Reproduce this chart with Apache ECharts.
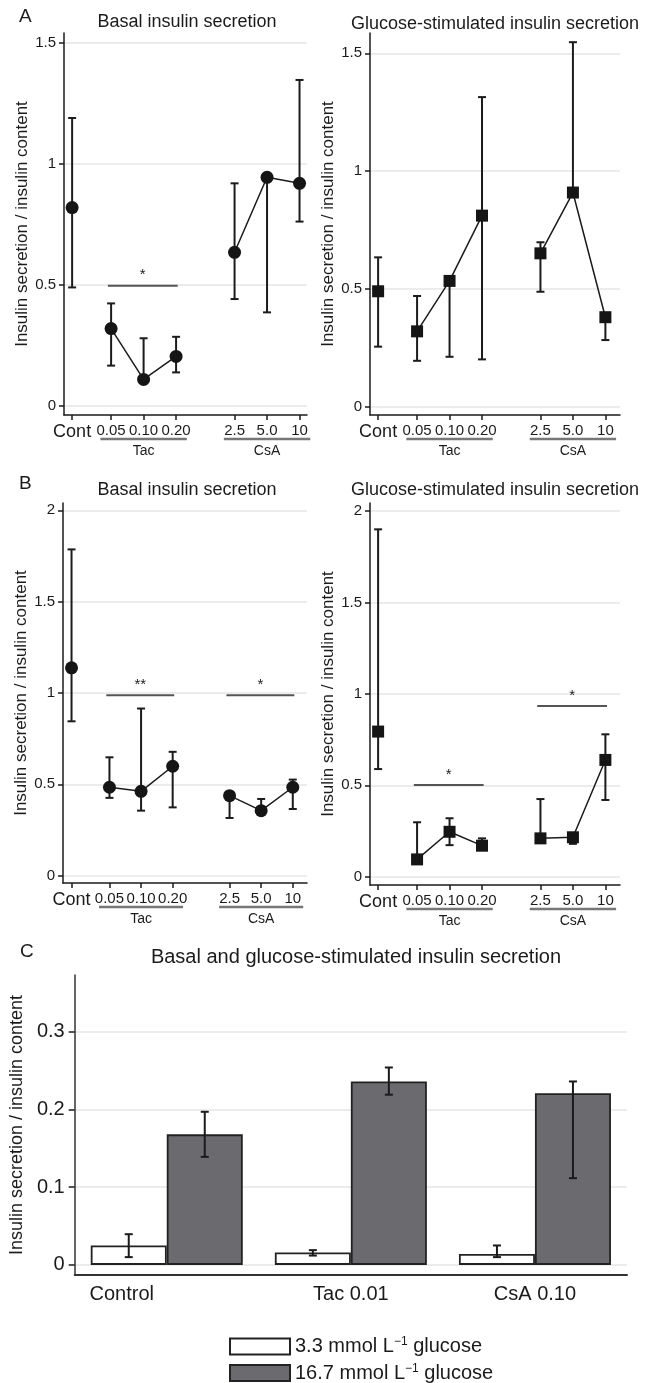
<!DOCTYPE html>
<html>
<head>
<meta charset="utf-8">
<script src="https://cdn.jsdelivr.net/npm/echarts@6/dist/echarts.min.js"></script>
<style>
html, body { margin: 0; padding: 0; background: #fff; }
#main { width: 651px; height: 1383px; }
</style>
</head>
<body>
<div id="main"></div>
<script>
var doseLabels = ['Cont', '0.05', '0.10', '0.20', '2.5', '5.0', '10'];
var drugGroups = ['Tac', 'CsA'];

// A: mean and error range per dose
var aBasalMean = [0.82, 0.32, 0.11, 0.205, 0.635, 0.945, 0.92];
var aBasalLow  = [0.49, 0.167, 0.11, 0.139, 0.442, 0.387, 0.762];
var aBasalHigh = [1.19, 0.424, 0.28, 0.286, 0.92, 0.945, 1.347];
var aGlucMean = [0.49, 0.32, 0.534, 0.811, 0.651, 0.909, 0.38];
var aGlucLow  = [0.255, 0.195, 0.212, 0.201, 0.488, 0.9, 0.283];
var aGlucHigh = [0.634, 0.47, 0.534, 1.314, 0.698, 1.547, 0.38];

// B
var bBasalMean = [1.138, 0.484, 0.462, 0.599, 0.438, 0.356, 0.484];
var bBasalLow  = [0.845, 0.426, 0.356, 0.374, 0.316, 0.356, 0.365];
var bBasalHigh = [1.786, 0.648, 0.915, 0.678, 0.438, 0.42, 0.526];
var bGlucMean = [0.794, 0.095, 0.246, 0.17, 0.21, 0.216, 0.639];
var bGlucLow  = [0.589, 0.095, 0.173, 0.146, 0.21, 0.18, 0.42];
var bGlucHigh = [1.90, 0.298, 0.32, 0.21, 0.425, 0.216, 0.779];

// significance bars: first dose index, last dose index, height, mark
var aBasalSig = [[1, 3, 0.497, '*']];
var aGlucSig = [];
var bBasalSig = [[1, 3, 0.988, '**'], [4, 6, 0.988, '*']];
var bGlucSig = [[1, 3, 0.502, '*'], [4, 6, 0.934, '*']];

var abTicks = [0, 0.5, 1, 1.5];
var bbTicks = [0, 0.5, 1, 1.5, 2];

// C
var cCats = ['Control', 'Tac 0.01', 'CsA 0.10'];
var cLowName = '3.3 mmol L⁻¹ glucose';
var cHighName = '16.7 mmol L⁻¹ glucose';
var cLowMean = [0.025, 0.016, 0.014];
var cLowErrLo = [0.01, 0.012, 0.01];
var cLowErrHi = [0.0395, 0.019, 0.025];
var cHighMean = [0.168, 0.236, 0.221];
var cHighErrLo = [0.139, 0.219, 0.1116];
var cHighErrHi = [0.197, 0.254, 0.236];
var cTicks = [0, 0.1, 0.2, 0.3];

var yName = 'Insulin secretion / insulin content';
var font = 'Liberation Sans, Arial, sans-serif';
var ink = '#1b1b1b';

// layout: where each dose sits on the x scale
var slotPos = [0, 1.2, 2.2, 3.2, 5, 6, 7];
var groupSlots = [[1, 3], [4, 6]];

var panels = [
    {grid: {left: 64, top: 33, width: 243, height: 382}, x: [-0.25, 7.23], y: [-0.037, 1.541], ticks: abTicks,
        mean: aBasalMean, low: aBasalLow, high: aBasalHigh, sig: aBasalSig, symbol: 'circle', size: 13},
    {grid: {left: 370, top: 33, width: 250, height: 382}, x: [-0.25, 7.45], y: [-0.035, 1.586], ticks: abTicks,
        mean: aGlucMean, low: aGlucLow, high: aGlucHigh, sig: aGlucSig, symbol: 'rect', size: 12},
    {grid: {left: 63, top: 503, width: 244, height: 380}, x: [-0.27, 7.45], y: [-0.04, 2.04], ticks: bbTicks,
        mean: bBasalMean, low: bBasalLow, high: bBasalHigh, sig: bBasalSig, symbol: 'circle', size: 13},
    {grid: {left: 370, top: 503, width: 250, height: 382}, x: [-0.25, 7.45], y: [-0.045, 2.044], ticks: bbTicks,
        mean: bGlucMean, low: bGlucLow, high: bGlucHigh, sig: bGlucSig, symbol: 'rect', size: 12}
];

function errRender(offset) {
    return function (params, api) {
        var top = api.coord([api.value(0), api.value(2)]);
        var bot = api.coord([api.value(0), api.value(1)]);
        var x = top[0] + offset;
        var st = {stroke: ink, lineWidth: 2};
        return {type: 'group', children: [
            {type: 'line', shape: {x1: x, y1: top[1], x2: x, y2: bot[1]}, style: st},
            {type: 'line', shape: {x1: x - 4, y1: top[1], x2: x + 4, y2: top[1]}, style: st},
            {type: 'line', shape: {x1: x - 4, y1: bot[1], x2: x + 4, y2: bot[1]}, style: st}
        ]};
    };
}

function sigRender(list) {
    return function (params, api) {
        var a = api.coord([api.value(0), api.value(2)]);
        var b = api.coord([api.value(1), api.value(2)]);
        return {type: 'group', children: [
            {type: 'line', shape: {x1: a[0], y1: a[1], x2: b[0], y2: b[1]}, style: {stroke: '#555', lineWidth: 2}},
            {type: 'text', style: {text: list[params.dataIndex][3], x: (a[0] + b[0]) / 2, y: a[1] - 3,
                align: 'center', verticalAlign: 'bottom', fontSize: 15, fontFamily: font, fill: ink}}
        ]};
    };
}

function groupRender(params, api) {
    var cs = params.coordSys;
    var bottom = cs.y + cs.height;
    var a = api.coord([api.value(0), 0]);
    var b = api.coord([api.value(1), 0]);
    return {type: 'group', children: [
        {type: 'line', shape: {x1: a[0], y1: bottom + 24, x2: b[0], y2: bottom + 24}, style: {stroke: '#777', lineWidth: 2.5}},
        {type: 'text', style: {text: drugGroups[params.dataIndex], x: (a[0] + b[0]) / 2, y: bottom + 29,
            align: 'center', verticalAlign: 'top', fontSize: 14, fontFamily: font, fill: ink}}
    ]};
}

var grids = [], xAxes = [], yAxes = [], series = [];

panels.forEach(function (p, k) {
    grids.push(p.grid);
    xAxes.push({
        type: 'value', gridIndex: k, min: p.x[0], max: p.x[1],
        axisLine: {onZero: false, lineStyle: {color: ink, width: 1.5}},
        axisTick: {customValues: slotPos, length: 5, lineStyle: {color: ink, width: 1.5}},
        axisLabel: {
            customValues: slotPos, margin: 8, color: ink, fontSize: 15,
            formatter: function (v) {
                var lab = doseLabels[slotPos.indexOf(v)];
                return lab === 'Cont' ? '{big|Cont}' : lab;
            },
            rich: {big: {fontSize: 18, color: ink, fontFamily: font}}
        },
        splitLine: {show: false}
    });
    yAxes.push({
        type: 'value', gridIndex: k, min: p.y[0], max: p.y[1],
        name: yName, nameLocation: 'middle', nameGap: 30,
        nameTextStyle: {fontSize: 17, color: ink},
        axisLine: {show: true, onZero: false, lineStyle: {color: ink, width: 1.5}},
        axisTick: {show: true, customValues: p.ticks, length: 5, lineStyle: {color: ink, width: 1.5}},
        axisLabel: {customValues: p.ticks, margin: 8, fontSize: 15, color: ink},
        splitLine: {show: true, lineStyle: {color: '#e6e6e6', width: 1.5}}
    });

    var errData = p.mean.map(function (m, i) { return [slotPos[i], p.low[i], p.high[i]]; });
    series.push({type: 'custom', xAxisIndex: k, yAxisIndex: k, data: errData, renderItem: errRender(0), z: 2});

    groupSlots.forEach(function (g) {
        var pts = [];
        for (var i = g[0]; i <= g[1]; i++) pts.push([slotPos[i], p.mean[i]]);
        series.push({type: 'line', xAxisIndex: k, yAxisIndex: k, data: pts, showSymbol: false,
            lineStyle: {color: ink, width: 1.5}, z: 3});
    });

    series.push({type: 'scatter', xAxisIndex: k, yAxisIndex: k, symbol: p.symbol, symbolSize: p.size,
        data: p.mean.map(function (m, i) { return [slotPos[i], m]; }),
        itemStyle: {color: '#151515', opacity: 1}, z: 4});

    if (p.sig.length) {
        series.push({type: 'custom', xAxisIndex: k, yAxisIndex: k, renderItem: sigRender(p.sig), z: 2,
            data: p.sig.map(function (s) { return [slotPos[s[0]] - 0.1, slotPos[s[1]] + 0.05, s[2]]; })});
    }

    series.push({type: 'custom', xAxisIndex: k, yAxisIndex: k, renderItem: groupRender, z: 2,
        data: groupSlots.map(function (g) { return [slotPos[g[0]] - 0.33, slotPos[g[1]] + 0.33]; })});
});

// panel C
var barW = 76;
grids.push({left: 73, top: 975, width: 554, height: 300});
xAxes.push({
    type: 'category', gridIndex: 4, data: cCats,
    axisLine: {onZero: false, lineStyle: {color: '#333', width: 2}},
    axisTick: {show: false},
    axisLabel: {
        margin: 9, fontSize: 20, color: ink,
        formatter: function (v, i) { return i === 0 ? '{left|' + v + '}' : v; },
        rich: {left: {fontSize: 20, color: ink, fontFamily: font, padding: [0, 90, 0, 0]}}
    }
});
yAxes.push({
    type: 'value', gridIndex: 4, min: -0.013, max: 0.373,
    name: yName, nameLocation: 'middle', nameGap: 37,
    nameTextStyle: {fontSize: 18, color: ink},
    axisLine: {show: true, onZero: false, lineStyle: {color: '#333', width: 1.5}},
    axisTick: {show: true, customValues: cTicks, length: 6, lineStyle: {color: ink, width: 1.5}},
    axisLabel: {customValues: cTicks, margin: 10, fontSize: 20, color: ink},
    splitLine: {show: true, lineStyle: {color: '#e6e6e6', width: 1.5}}
});
series.push({
    type: 'bar', name: cLowName, xAxisIndex: 4, yAxisIndex: 4, data: cLowMean,
    barWidth: barW, barGap: '0%',
    itemStyle: {color: '#ffffff', borderColor: '#222', borderWidth: 1.8}
});
series.push({
    type: 'bar', name: cHighName, xAxisIndex: 4, yAxisIndex: 4, data: cHighMean,
    barWidth: barW, barGap: '0%',
    itemStyle: {color: '#6b6b6f', borderColor: '#222', borderWidth: 1.8}
});
series.push({type: 'custom', xAxisIndex: 4, yAxisIndex: 4, renderItem: errRender(-barW / 2), z: 5,
    data: cLowMean.map(function (m, i) { return [i, cLowErrLo[i], cLowErrHi[i]]; })});
series.push({type: 'custom', xAxisIndex: 4, yAxisIndex: 4, renderItem: errRender(barW / 2), z: 5,
    data: cHighMean.map(function (m, i) { return [i, cHighErrLo[i], cHighErrHi[i]]; })});

var titleStyle = {fontSize: 18, fontWeight: 'normal', color: ink, fontFamily: font};
var chart = echarts.init(document.getElementById('main'));
chart.setOption({
    animation: false,
    textStyle: {fontFamily: font},
    title: [
        {text: 'A', left: 19, top: 7, padding: 0, textStyle: {fontSize: 19, fontWeight: 'normal', color: ink}},
        {text: 'Basal insulin secretion', left: 187, top: 13, padding: 0, textAlign: 'center', textStyle: titleStyle},
        {text: 'Glucose-stimulated insulin secretion', left: 495, top: 15, padding: 0, textAlign: 'center', textStyle: titleStyle},
        {text: 'B', left: 19, top: 474, padding: 0, textStyle: {fontSize: 19, fontWeight: 'normal', color: ink}},
        {text: 'Basal insulin secretion', left: 187, top: 481, padding: 0, textAlign: 'center', textStyle: titleStyle},
        {text: 'Glucose-stimulated insulin secretion', left: 495, top: 481, padding: 0, textAlign: 'center', textStyle: titleStyle},
        {text: 'C', left: 20, top: 942, padding: 0, textStyle: {fontSize: 19, fontWeight: 'normal', color: ink}},
        {text: 'Basal and glucose-stimulated insulin secretion', left: 356, top: 947, padding: 0, textAlign: 'center',
            textStyle: {fontSize: 20, fontWeight: 'normal', color: ink}}
    ],
    legend: {
        data: [cLowName, cHighName], orient: 'vertical', left: 229, top: 1336, padding: 0,
        itemWidth: 60, itemHeight: 16, itemGap: 6, icon: 'rect',
        formatter: function (name) { return '{t|' + name.replace('⁻¹', '}{sup|−1}{t|') + '}'; },
        textStyle: {
            fontSize: 20, color: ink,
            rich: {
                t: {fontSize: 20, color: ink, fontFamily: font, lineHeight: 20},
                sup: {fontSize: 12, color: ink, fontFamily: font, padding: [0, 0, 9, 0]}
            }
        }
    },
    grid: grids,
    xAxis: xAxes,
    yAxis: yAxes,
    series: series
});
</script>
</body>
</html>
